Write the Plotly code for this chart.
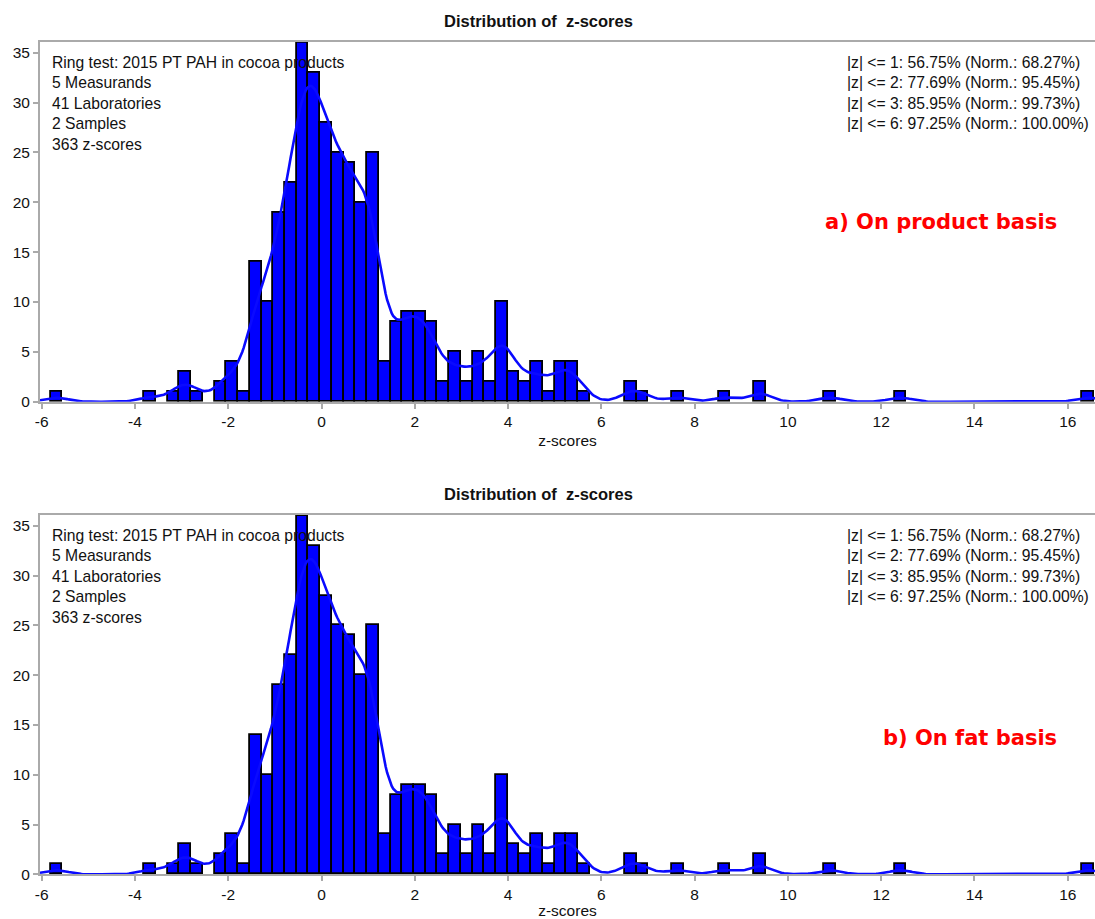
import numpy as np
import plotly.graph_objects as go

# ---- data ----
bin_start = -5.81
bin_width = 0.25135
counts = [1, 0, 0, 0, 0, 0, 0, 0, 1, 0,
          1, 3, 1, 0, 2, 4, 1, 14, 10, 19,
          22, 36, 33, 28, 25, 24, 20, 25, 4, 8,
          9, 9, 8, 2, 5, 2, 5, 2, 10, 3,
          2, 4, 1, 4, 4, 1, 0, 0, 0, 2,
          1, 0, 0, 1, 0, 0, 0, 1, 0, 0,
          2, 0, 0, 0, 0, 0, 1, 0, 0, 0,
          0, 0, 1, 0, 0, 0, 0, 0, 0, 0,
          0, 0, 0, 0, 0, 0, 0, 0, 1]
x_ticks = [-6, -4, -2, 0, 2, 4, 6, 8, 10, 12, 14, 16]
x_tick_labels = ["-6", "-4", "-2", "0", "2", "4", "6", "8", "10", "12", "14", "16"]
y_ticks = [0, 5, 10, 15, 20, 25, 30, 35]
info_left = ["Ring test: 2015 PT PAH in cocoa products", "5 Measurands",
             "41 Laboratories", "2 Samples", "363 z-scores"]
info_right = ["|z| <= 1: 56.75% (Norm.: 68.27%)", "|z| <= 2: 77.69% (Norm.: 95.45%)",
              "|z| <= 3: 85.95% (Norm.: 99.73%)", "|z| <= 6: 97.25% (Norm.: 100.00%)"]
panel_labels = ["a) On product basis", "b) On fat basis"]
title_text = "Distribution of  z-scores"
kde_bandwidth = 0.25

# ---- derived ----
counts_arr = np.array(counts, dtype=float)
centers = bin_start + (np.arange(len(counts)) + 0.5) * bin_width
mask = counts_arr > 0
x_range = [-6.036, 16.584]
grid = np.linspace(x_range[0], x_range[1], 700)
kde = (counts_arr[None, :] * bin_width *
       np.exp(-0.5 * ((grid[:, None] - centers[None, :]) / kde_bandwidth) ** 2)
       / (kde_bandwidth * np.sqrt(2 * np.pi))).sum(axis=1)

W, H = 1095, 919
L = 40
def px_x(p):
    return (p - L) / (W - L)
def px_y(p):
    return (H - p) / H

domains = [[px_y(401.7), px_y(41.7)], [px_y(874.3), px_y(515.0)]]
fig = go.Figure()
font_main = "Liberation Sans, Arial, sans-serif"
axis_col = "#aaaaaa"

annotations = []
for i in range(2):
    xa = "x" if i == 0 else "x2"
    ya = "y" if i == 0 else "y2"
    fig.add_trace(go.Bar(x=centers[mask], y=counts_arr[mask], width=bin_width,
                         marker=dict(color="#0000ff", line=dict(color="black", width=1.8)),
                         xaxis=xa, yaxis=ya, showlegend=False, hoverinfo="x+y"))
    fig.add_trace(go.Scatter(x=grid, y=kde, mode="lines",
                             line=dict(color="#0a0aff", width=2.6),
                             xaxis=xa, yaxis=ya, showlegend=False))
    xkey = "xaxis" if i == 0 else "xaxis2"
    ykey = "yaxis" if i == 0 else "yaxis2"
    fig.update_layout(**{
        xkey: dict(domain=[0, 1], range=x_range, anchor=ya, tickvals=x_ticks,
                   ticktext=x_tick_labels,
                   ticks="outside", ticklen=5, tickwidth=1.5, tickcolor=axis_col,
                   showline=True, linecolor=axis_col, linewidth=2, mirror=True,
                   showgrid=False, zeroline=False,
                   tickfont=dict(family=font_main, size=15.5, color="#111"),
                   title=dict(text="z-scores", standoff=6,
                              font=dict(family=font_main, size=15.5, color="#111"))),
        ykey: dict(domain=domains[i], range=[0, 36.1], anchor=xa, tickvals=y_ticks,
                   ticks="outside", ticklen=5, tickwidth=1.5, tickcolor=axis_col,
                   showline=True, linecolor=axis_col, linewidth=2,
                   showgrid=False, zeroline=False,
                   tickfont=dict(family=font_main, size=15.5, color="#111")),
    })
    off = 0 if i == 0 else (515.0 - 41.7)
    annotations.append(dict(text="<b>" + title_text + "</b>", x=px_x(538), y=px_y(21 + off),
                            xref="paper", yref="paper", showarrow=False,
                            xanchor="center", yanchor="middle",
                            font=dict(family=font_main, size=16.5, color="#111")))
    annotations.append(dict(text="<br>".join(info_left), x=px_x(50), y=px_y(51.5 + off),
                            xref="paper", yref="paper", showarrow=False, align="left",
                            xanchor="left", yanchor="top",
                            font=dict(family=font_main, size=15.7, color="#111")))
    annotations.append(dict(text="<br>".join(info_right), x=px_x(845), y=px_y(51.5 + off),
                            xref="paper", yref="paper", showarrow=False, align="left",
                            xanchor="left", yanchor="top",
                            font=dict(family=font_main, size=15.7, color="#111")))
    lab_y = 221.7 if i == 0 else 738.0
    annotations.append(dict(text="<b>" + panel_labels[i] + "</b>", x=px_x(1059), y=px_y(lab_y),
                            xref="paper", yref="paper", showarrow=False,
                            xanchor="right", yanchor="middle",
                            font=dict(family="DejaVu Sans, Verdana, sans-serif", size=21, color="#ff0000")))

fig.update_layout(width=W, height=H, margin=dict(l=L, r=0, t=0, b=0, autoexpand=False),
                  paper_bgcolor="white", plot_bgcolor="white", bargap=0,
                  annotations=annotations, showlegend=False)

fig.write_html("out.html", config={"displayModeBar": False},
               post_script="document.body.style.margin='0';document.body.style.overflow='hidden';")
